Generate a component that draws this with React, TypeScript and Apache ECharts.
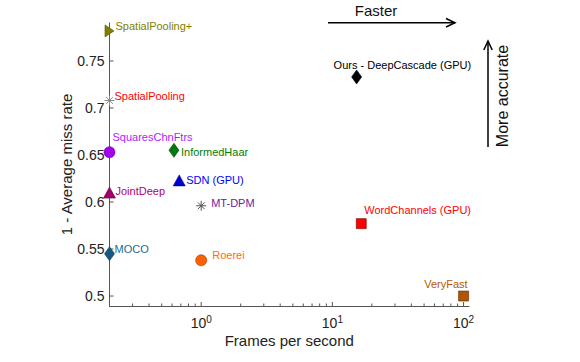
import { useEffect, useRef } from 'react';
import * as echarts from 'echarts';

// ---- data ----
const methods = [
  'SpatialPooling+',
  'SpatialPooling',
  'SquaresChnFtrs',
  'InformedHaar',
  'SDN (GPU)',
  'JointDeep',
  'MT-DPM',
  'MOCO',
  'Roerei',
  'WordChannels (GPU)',
  'VeryFast',
  'Ours - DeepCascade (GPU)',
];
const fps = [0.2, 0.2, 0.2, 0.62, 0.68, 0.2, 1, 0.2, 1, 16.6, 100, 15.3];
const accuracy = [0.782, 0.708, 0.653, 0.655, 0.623, 0.61, 0.596, 0.545, 0.538, 0.577, 0.5, 0.733];

const yTickValues = [0.5, 0.55, 0.6, 0.65, 0.7, 0.75];
const xMajorTicks = [1, 10, 100];
const xMinorTicks = [0.3, 0.4, 0.5, 0.6, 0.7, 0.8, 0.9, 2, 3, 4, 5, 6, 7, 8, 9, 20, 30, 40, 50, 60, 70, 80, 90];

const X_MIN = 0.2;
const X_MAX = 110;
const Y_MIN = 0.4894;
const Y_MAX = 0.7904;

// ---- styles (per method, same order) ----
const ASTERISK = 'path://M5,0 L5,10 M0,5 L10,5 M1.6,1.6 L8.4,8.4 M1.6,8.4 L8.4,1.6';
const TRI_RIGHT = 'path://M0,0 L10,6 L0,12 Z';

const markerStyles: any[] = [
  { symbol: TRI_RIGHT, size: [9, 12], color: '#7f7f00', border: '#5a5a00', label: '#808000', off: [6, -5] },
  { symbol: ASTERISK, size: 10, color: 'none', border: '#8a8a8a', label: '#ff0000', off: [5, -4], stroke: true },
  { symbol: 'circle', size: 11, color: '#a400ee', border: '#6a0099', label: '#b01cff', off: [3, -15] },
  { symbol: 'diamond', size: [10, 14], color: '#007a10', border: '#004a00', label: '#008000', off: [7, 2] },
  { symbol: 'triangle', size: [12, 11], color: '#0000d0', border: '#000090', label: '#0000ff', off: [7, 0] },
  { symbol: 'triangle', size: [12, 11], color: '#a0006c', border: '#70004a', label: '#b0007a', off: [6, -2] },
  { symbol: ASTERISK, size: 10, color: 'none', border: '#555555', label: '#7020a0', off: [10, -3], stroke: true },
  { symbol: 'diamond', size: [10, 14], color: '#145a80', border: '#0a3a58', label: '#1a6b96', off: [5, -5] },
  { symbol: 'circle', size: 11, color: '#ff6000', border: '#8a3a00', label: '#ff6a10', off: [11, -5] },
  { symbol: 'rect', size: 10, color: '#ff0000', border: '#700000', label: '#ff0000', off: [3, -14] },
  { symbol: 'rect', size: 10, color: '#b35400', border: '#5a2a00', label: '#b35900', off: [4, -12], right: true },
  { symbol: 'diamond', size: [10, 14], color: '#000000', border: '#000000', label: '#000000', off: [-23, -12] },
];

const FONT = "'Liberation Sans', Arial, Helvetica, sans-serif";
const AXIS_COLOR = '#555555';
const TEXT_COLOR = '#222222';

export default function App() {
  const ref = useRef<HTMLDivElement>(null);

  useEffect(() => {
    document.body.style.margin = '0';
    if (!ref.current) return;
    const chart = echarts.init(ref.current, undefined, { renderer: 'svg' });

    const scatterData = methods.map((name, i) => {
      const s = markerStyles[i];
      return {
        name,
        value: [fps[i], accuracy[i]],
        symbol: s.symbol,
        symbolSize: s.size,
        itemStyle: {
          color: s.color,
          borderColor: s.border,
          borderWidth: s.stroke ? 1 : 0.6,
          opacity: 1,
        },
        label: {
          show: true,
          formatter: name,
          position: 'inside',
          align: s.right ? 'right' : 'left',
          verticalAlign: 'middle',
          offset: s.off,
          color: s.label,
          opacity: 1,
          fontSize: 11,
          fontFamily: FONT,
        },
      };
    });

    const tickRender = (len: number, dir: 'x' | 'y') => (params: any, api: any) => {
      const p = api.coord([api.value(0), api.value(1)]);
      return {
        type: 'line',
        shape:
          dir === 'x'
            ? { x1: p[0], y1: p[1], x2: p[0], y2: p[1] - len }
            : { x1: p[0], y1: p[1], x2: p[0] + len, y2: p[1] },
        style: { stroke: AXIS_COLOR, lineWidth: 1 },
      };
    };

    chart.setOption({
      animation: false,
      grid: { left: 109.5, right: 111, top: 23, bottom: 56, containLabel: false, outerBoundsMode: 'none' },
      xAxis: {
        type: 'log',
        logBase: 10,
        min: X_MIN,
        max: X_MAX,
        name: 'Frames per second',
        nameLocation: 'middle',
        nameGap: 27,
        nameMoveOverlap: false,
        nameTextStyle: { fontSize: 15, fontFamily: FONT, color: TEXT_COLOR },
        axisLine: { show: true, lineStyle: { color: AXIS_COLOR, width: 1 } },
        axisTick: { show: false },
        minorTick: { show: false },
        splitLine: { show: false },
        minorSplitLine: { show: false },
        axisLabel: {
          margin: 8,
          showMinLabel: false,
          showMaxLabel: false,
          formatter: (v: number) => {
            const l = Math.log10(v);
            const r = Math.round(l);
            if (Math.abs(l - r) < 1e-6) return `{b|10}{s|${r}}`;
            return '';
          },
          rich: {
            b: { fontSize: 14, fontFamily: FONT, color: TEXT_COLOR, lineHeight: 16, verticalAlign: 'bottom' },
            s: { fontSize: 10, fontFamily: FONT, color: TEXT_COLOR, lineHeight: 16, verticalAlign: 'top' },
          },
        },
      },
      yAxis: {
        type: 'value',
        min: Y_MIN,
        max: Y_MAX,
        name: '1 - Average miss rate',
        nameLocation: 'middle',
        nameRotate: 90,
        nameGap: 36,
        nameMoveOverlap: false,
        nameTextStyle: { fontSize: 15, fontFamily: FONT, color: TEXT_COLOR },
        axisLine: { show: true, lineStyle: { color: AXIS_COLOR, width: 1 } },
        axisTick: { show: false },
        splitLine: { show: false },
        axisLabel: {
          customValues: yTickValues,
          margin: 5,
          fontSize: 14,
          fontFamily: FONT,
          color: TEXT_COLOR,
          formatter: (v: number) => String(Math.round(v * 100) / 100),
        },
      },
      graphic: [
        {
          type: 'text',
          x: 376,
          y: 10,
          style: { text: 'Faster', fill: '#111', font: `15px ${FONT}`, textAlign: 'center', textVerticalAlign: 'middle' },
        },
        { type: 'line', shape: { x1: 328, y1: 22.7, x2: 455, y2: 22.7 }, style: { stroke: '#000', lineWidth: 1.5 } },
        {
          type: 'polyline',
          shape: { points: [[446, 18.5], [455, 22.7], [446, 27]] },
          style: { stroke: '#000', lineWidth: 1.5, fill: 'none' },
        },
        {
          type: 'text',
          x: 502,
          y: 96,
          rotation: Math.PI / 2,
          style: { text: 'More accurate', fill: '#111', font: `16px ${FONT}`, textAlign: 'center', textVerticalAlign: 'middle' },
        },
        { type: 'line', shape: { x1: 488, y1: 147, x2: 488, y2: 41 }, style: { stroke: '#000', lineWidth: 1.5 } },
        {
          type: 'polyline',
          shape: { points: [[483.8, 50], [488, 41], [492.2, 50]] },
          style: { stroke: '#000', lineWidth: 1.5, fill: 'none' },
        },
      ],
      series: [
        {
          type: 'custom',
          clip: false,
          silent: true,
          renderItem: tickRender(4, 'x'),
          data: xMajorTicks.map((v) => [v, Y_MIN]),
          z: 1,
        },
        {
          type: 'custom',
          clip: false,
          silent: true,
          renderItem: tickRender(2.5, 'x'),
          data: xMinorTicks.map((v) => [v, Y_MIN]),
          z: 1,
        },
        {
          type: 'custom',
          clip: false,
          silent: true,
          renderItem: tickRender(4, 'y'),
          data: yTickValues.map((v) => [X_MIN, v]),
          z: 1,
        },
        {
          type: 'scatter',
          clip: false,
          silent: true,
          emphasis: { disabled: true },
          itemStyle: { opacity: 1 },
          data: scatterData,
          z: 3,
        },
      ],
    });

    return () => chart.dispose();
  }, []);

  return <div ref={ref} style={{ width: 580, height: 362 }} />;
}
